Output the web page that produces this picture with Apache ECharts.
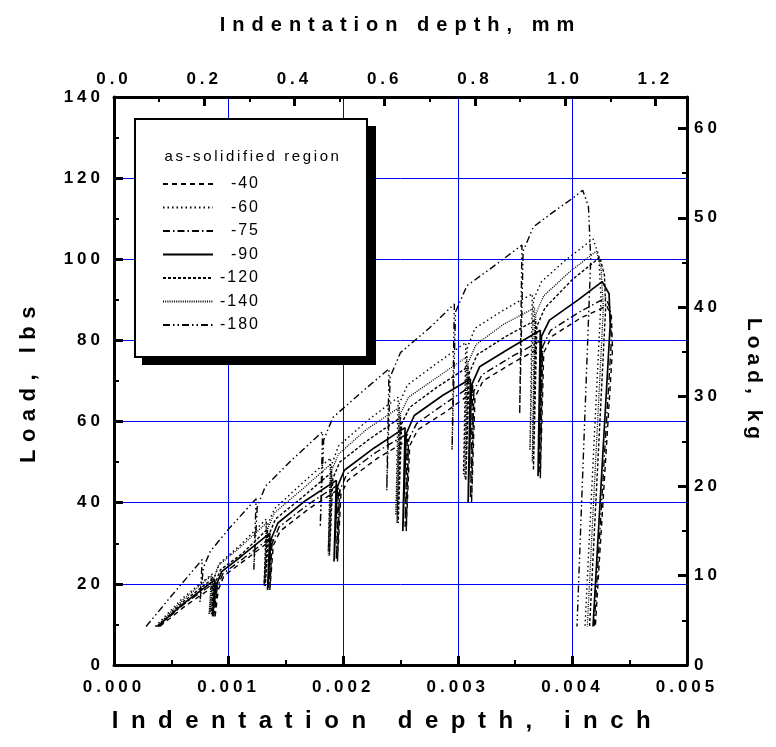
<!DOCTYPE html>
<html>
<head>
<meta charset="utf-8">
<script src="https://cdn.jsdelivr.net/npm/echarts/dist/echarts.min.js"></script>
<style>
html,body{margin:0;padding:0;background:#fff;}
#chart{width:776px;height:747px;}
</style>
</head>
<body>
<div id="chart"></div>
<script>
// ---------------- DATA ----------------
const seriesNames = ['-40', '-60', '-75', '-90', '-120', '-140', '-180'];

// depth (inch), load (lbs)
const curve40 = [
  [0.00040,9.5],[0.00062,14.5],[0.00090,20],[0.00088,11.5],[0.00091,18.5],[0.00096,22],
  [0.00115,26],[0.00138,31],[0.00136,18.5],[0.00139,29.5],[0.00145,33],
  [0.00170,38.5],[0.00197,43.5],[0.00195,25.5],[0.00198,42],[0.00204,45.5],
  [0.00230,51],[0.00257,55.5],[0.00255,33],[0.00258,54],[0.00265,58],
  [0.00290,62.5],[0.00314,67.5],[0.00312,40],[0.00315,66],[0.00322,70],
  [0.00348,74.5],[0.00374,78.5],[0.00372,46],[0.00375,77],[0.00382,81],
  [0.00407,85.5],[0.00430,88.5],[0.00434,86],[0.00435,78],[0.00420,9.5]
];
const curve60 = [
  [0.00036,9.5],[0.00060,16.5],[0.00086,22.5],[0.00084,13],[0.00087,21],[0.00092,25],
  [0.00110,29.5],[0.00133,36],[0.00131,20],[0.00134,34.5],[0.00140,38.5],
  [0.00165,45],[0.00189,51],[0.00187,28],[0.00190,49.5],[0.00196,54],
  [0.00220,60],[0.00248,66],[0.00246,37],[0.00249,64.5],[0.00256,69],
  [0.00280,74],[0.00307,79.5],[0.00305,47],[0.00308,78],[0.00315,83],
  [0.00340,87.5],[0.00365,91.5],[0.00363,53],[0.00366,90],[0.00373,94.5],
  [0.00395,100],[0.00418,105],[0.00423,101],[0.00425,90],[0.00411,9.5]
];
const curve75 = [
  [0.00039,9.5],[0.00061,15],[0.00089,20.5],[0.00087,12],[0.00090,19],[0.00095,22.5],
  [0.00114,26.5],[0.00137,31.5],[0.00135,19],[0.00138,30],[0.00144,34],
  [0.00169,39.5],[0.00196,44.5],[0.00194,26],[0.00197,43],[0.00203,47],
  [0.00229,52.5],[0.00256,57],[0.00254,34],[0.00257,55.5],[0.00264,59.5],
  [0.00289,64.5],[0.00313,69],[0.00311,41],[0.00314,67.5],[0.00321,71.5],
  [0.00347,76],[0.00373,80],[0.00371,47.5],[0.00374,78.5],[0.00381,82.5],
  [0.00406,87],[0.00429,90.5],[0.00433,88],[0.00434,80],[0.00419,9.5]
];
const curve90 = [
  [0.00038,9.5],[0.00060,15],[0.00088,21],[0.00086,12],[0.00089,19.5],[0.00094,23],
  [0.00112,27],[0.00136,32.5],[0.00134,18.5],[0.00137,31],[0.00143,35],
  [0.00167,40.5],[0.00194,45.5],[0.00192,25.5],[0.00195,44],[0.00201,48],
  [0.00227,53.5],[0.00254,58.5],[0.00252,33],[0.00255,57],[0.00262,61.5],
  [0.00287,66.5],[0.00311,70.5],[0.00309,40],[0.00312,69],[0.00319,73.5],
  [0.00345,78],[0.00372,82.5],[0.00370,46.5],[0.00373,81],[0.00380,85],
  [0.00405,90],[0.00426,94.5],[0.00432,91.5],[0.00433,84],[0.00418,9.5]
];
const curve120 = [
  [0.00038,9.5],[0.00060,15.5],[0.00087,21.5],[0.00085,12.5],[0.00088,20],[0.00093,23.5],
  [0.00112,27.5],[0.00134,33.5],[0.00132,19.5],[0.00135,32],[0.00141,36],
  [0.00165,41.5],[0.00190,47.5],[0.00188,27],[0.00191,46],[0.00197,50],
  [0.00222,55.5],[0.00250,61],[0.00248,35],[0.00251,59.5],[0.00258,63.5],
  [0.00282,68.5],[0.00309,73.5],[0.00307,45.5],[0.00310,72],[0.00317,76.5],
  [0.00342,81],[0.00368,85],[0.00366,48],[0.00369,83.5],[0.00376,88],
  [0.00400,95],[0.00424,100.5],[0.00428,96],[0.00429,88],[0.00415,9.5]
];
const curve140 = [
  [0.00037,9.5],[0.00060,16],[0.00085,22],[0.00083,12.5],[0.00086,20.5],[0.00091,24.5],
  [0.00110,29],[0.00133,35],[0.00131,19.5],[0.00134,33.5],[0.00140,37.5],
  [0.00165,43.5],[0.00189,49.5],[0.00187,27],[0.00190,48],[0.00196,52],
  [0.00220,58],[0.00249,63.5],[0.00247,35],[0.00250,62],[0.00257,66],
  [0.00280,70.5],[0.00308,76],[0.00306,46],[0.00309,74.5],[0.00316,79],
  [0.00340,84],[0.00367,88],[0.00365,50],[0.00368,86.5],[0.00375,91],
  [0.00398,97],[0.00421,102],[0.00425,98],[0.00427,88],[0.00413,9.5]
];
const curve180 = [
  [0.00028,9.5],[0.00050,17],[0.00077,26],[0.00075,15.5],[0.00078,24],[0.00084,28],
  [0.00100,33.5],[0.00124,41],[0.00122,23.5],[0.00125,39],[0.00132,44],
  [0.00155,50.5],[0.00182,57.5],[0.00180,34],[0.00183,55.5],[0.00191,61],
  [0.00215,67],[0.00240,73],[0.00238,43],[0.00241,71],[0.00250,77],
  [0.00275,83],[0.00297,89],[0.00295,53],[0.00298,87],[0.00308,93.5],
  [0.00330,98],[0.00356,103.5],[0.00354,62],[0.00357,102],[0.00366,108],
  [0.00385,112],[0.00400,115],[0.00409,117],[0.00414,113],[0.00416,100],[0.00404,9.5]
];
const curves = [curve40, curve60, curve75, curve90, curve120, curve140, curve180];

const inchTicks = [0, 0.005, 0.001];   // min, max, interval
const mmTicks = [0, 1.27, 0.2];
const lbsTicks = [0, 140, 20];
const kgTicks = [0, 140 / 2.20462, 10];

// ---------------- STYLES ----------------
const dashes = [[5,4],[1.5,3],[7,3,1.5,3],'solid',[3,2],[1,1.2],[7,3,1.5,3,1.5,3]];
const widths = [1.4,1.4,1.4,1.7,1.4,1.3,1.4];

// letter spacing emulation keyed by font size
const SPACING = {17: 4, 20: 7, 24: 12.5, 22: 7.5, 21: 5, 15: 2.6, 16: 2};
(function(){
  const P = CanvasRenderingContext2D.prototype;
  const orig = P.fillText;
  P.fillText = function(t, x, y, m){
    const mm = /(\d+(?:\.\d+)?)px/.exec(this.font);
    const s = mm ? (SPACING[Math.round(+mm[1])] || 0) : 0;
    try { this.letterSpacing = s + 'px'; } catch(e) {}
    return m === undefined ? orig.call(this, t, x, y) : orig.call(this, t, x, y, m);
  };
})();

const FONT = 'Arial, "Liberation Sans", sans-serif';
const black = '#000';
const blue = '#0000ff';

function axisCommon(){
  return {
    alignTicks: false,
    axisLine: {show: true, onZero: false, lineStyle: {color: black, width: 3}},
    axisTick: {show: true, inside: true, length: 9, lineStyle: {color: black, width: 3}},
    minorTick: {show: true, splitNumber: 2, length: 5, lineStyle: {color: black, width: 2}},
    minorSplitLine: {show: false},
    splitArea: {show: false},
    axisPointer: {show: false},
    axisLabel: {color: black, fontFamily: FONT, fontWeight: 'bold', fontSize: 17},
    nameTextStyle: {color: black, fontFamily: FONT, fontWeight: 'bold'},
    nameLocation: 'middle'
  };
}

const chart = echarts.init(document.getElementById('chart'), null, {renderer: 'canvas'});

const series = seriesNames.map((n, i) => ({
  name: n,
  type: 'line',
  xAxisIndex: 0,
  yAxisIndex: 0,
  data: curves[i],
  symbol: 'none',
  showSymbol: false,
  smooth: false,
  animation: false,
  lineStyle: {color: black, width: widths[i], type: dashes[i]},
  itemStyle: {color: black},
  z: 3
}));

const option = {
  animation: false,
  backgroundColor: '#fff',
  tooltip: {show: false},
  grid: {left: 114, right: 89, top: 97, bottom: 82, containLabel: false},
  xAxis: [
    Object.assign(axisCommon(), {
      type: 'value', position: 'bottom',
      min: inchTicks[0], max: inchTicks[1], interval: inchTicks[2],
      name: 'Indentation depth, inch', nameGap: 44,
      nameTextStyle: {color: black, fontFamily: FONT, fontWeight: 'bold', fontSize: 24, padding: [0, 26, 0, 0]},
      axisLabel: {color: black, fontFamily: FONT, fontWeight: 'bold', fontSize: 17, margin: 14,
        formatter: v => v.toFixed(3)},
      splitLine: {show: true, showMinLine: false, showMaxLine: false, lineStyle: {color: blue, width: 1, opacity: 1}}
    }),
    Object.assign(axisCommon(), {
      type: 'value', position: 'top',
      min: mmTicks[0], max: mmTicks[1], interval: mmTicks[2],
      name: 'Indentation depth, mm', nameGap: 62,
      nameTextStyle: {color: black, fontFamily: FONT, fontWeight: 'bold', fontSize: 20},
      axisLabel: {color: black, fontFamily: FONT, fontWeight: 'bold', fontSize: 17, margin: 9,
        showMaxLabel: false, formatter: v => v.toFixed(1)},
      splitLine: {show: false}
    })
  ],
  yAxis: [
    Object.assign(axisCommon(), {
      type: 'value', position: 'left',
      min: lbsTicks[0], max: lbsTicks[1], interval: lbsTicks[2],
      name: 'Load, lbs', nameGap: 74, nameRotate: 90,
      nameTextStyle: {color: black, fontFamily: FONT, fontWeight: 'bold', fontSize: 22},
      axisLabel: {color: black, fontFamily: FONT, fontWeight: 'bold', fontSize: 17, margin: 10},
      splitLine: {show: true, showMinLine: false, showMaxLine: false, lineStyle: {color: blue, width: 1, opacity: 1, type: 'solid'}}
    }),
    Object.assign(axisCommon(), {
      type: 'value', position: 'right',
      min: kgTicks[0], max: kgTicks[1], interval: kgTicks[2],
      name: 'Load, kg', nameGap: 56, nameRotate: -90,
      nameTextStyle: {color: black, fontFamily: FONT, fontWeight: 'bold', fontSize: 21},
      axisLabel: {color: black, fontFamily: FONT, fontWeight: 'bold', fontSize: 17, margin: 7,
        showMaxLabel: false},
      splitLine: {show: false}
    })
  ],
  legend: {
    show: true,
    orient: 'vertical',
    left: 157,
    top: 171,
    itemWidth: 50,
    itemHeight: 14,
    itemGap: 7.5,
    data: seriesNames,
    selectedMode: false,
    z: 20,
    itemStyle: {opacity: 0},
    formatter: n => '{a|' + n + '}',
    textStyle: {
      color: black, fontFamily: FONT, fontSize: 16,
      rich: {a: {width: 42, align: 'right', fontSize: 16, fontFamily: FONT, color: black}}
    }
  },
  graphic: [
    {type: 'rect', shape: {x: 142, y: 126, width: 234, height: 239}, style: {fill: '#000'}, z: 10, silent: true},
    {type: 'rect', shape: {x: 135, y: 119, width: 232, height: 238}, style: {fill: '#fff', stroke: '#000', lineWidth: 2}, z: 11, silent: true},
    {type: 'text', x: 253, y: 157, z: 12, silent: true,
      style: {text: 'as-solidified region', fill: black, font: '15px ' + FONT, textAlign: 'center', textVerticalAlign: 'middle'}}
  ],
  series: series
};
chart.setOption(option);
</script>
</body>
</html>
